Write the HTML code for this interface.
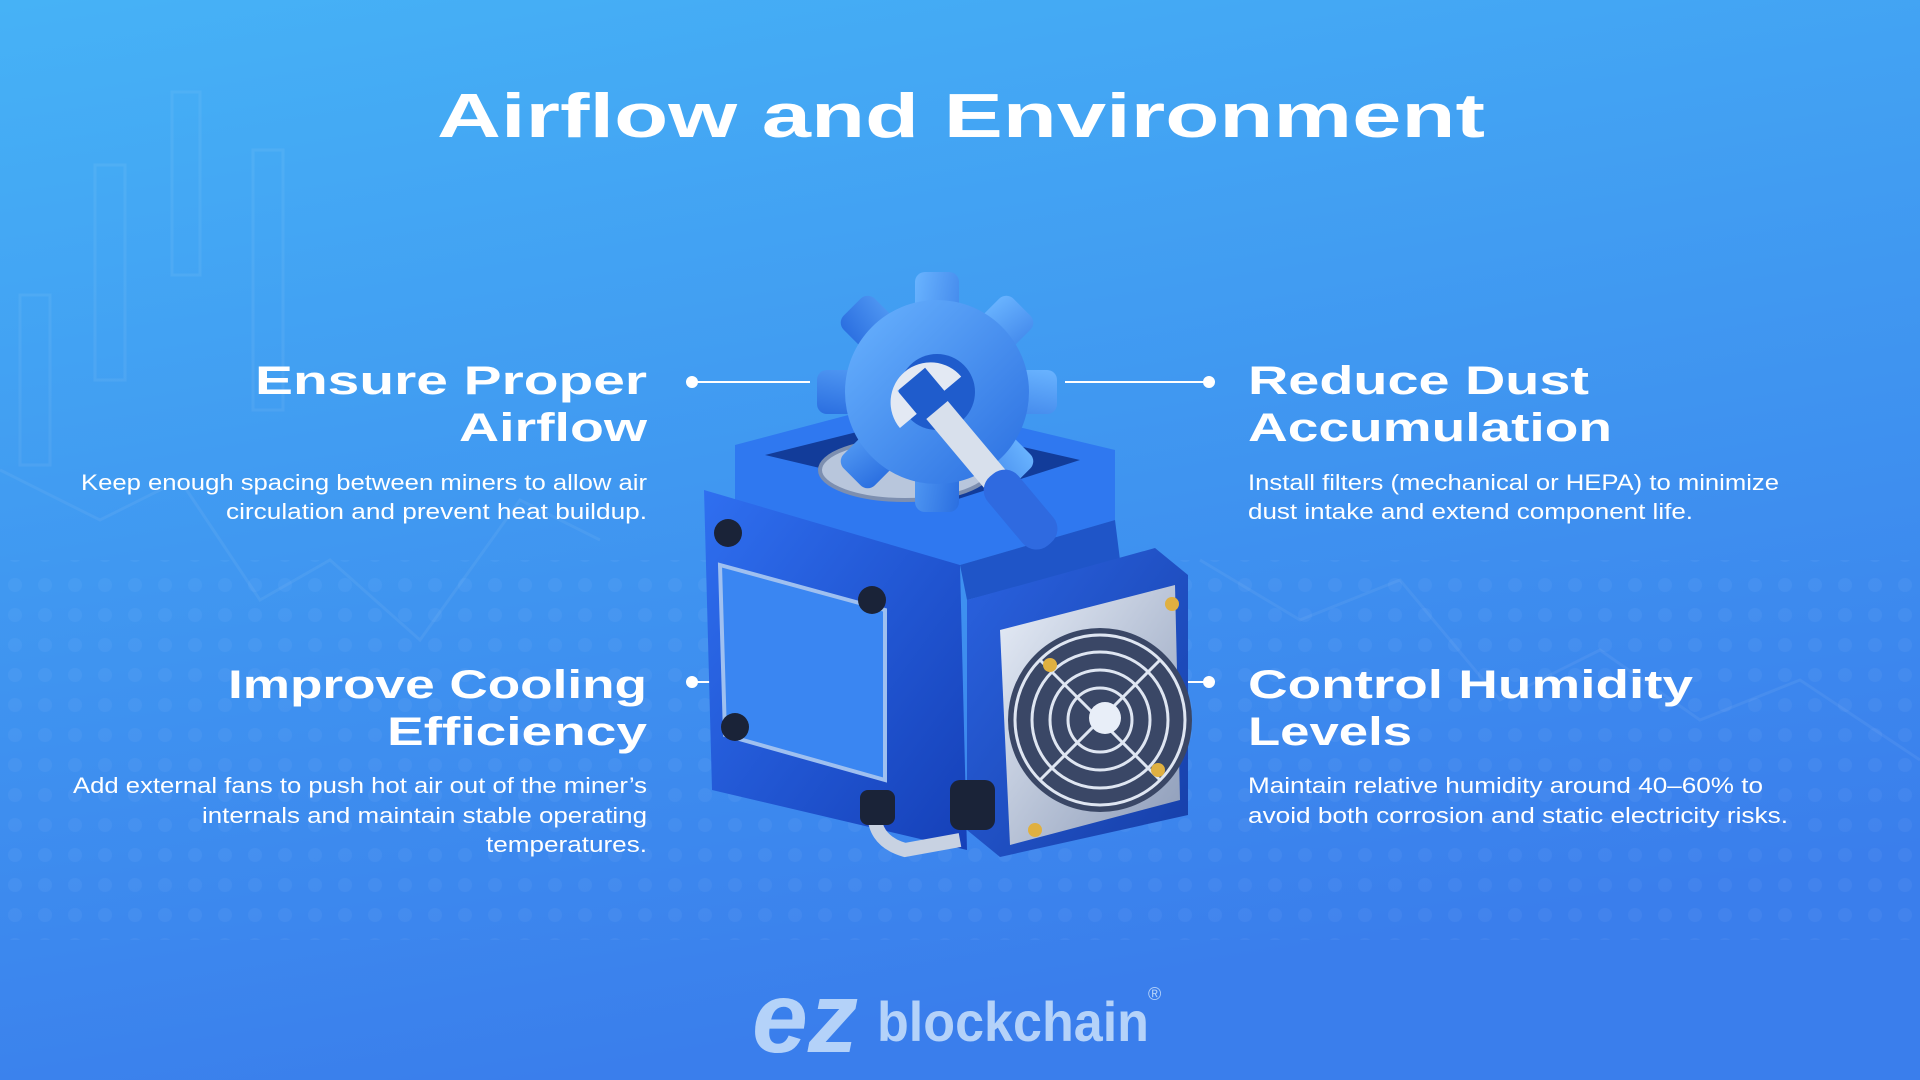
<!DOCTYPE html>
<html><head><meta charset="utf-8">
<style>
html,body{margin:0;padding:0;width:1920px;height:1080px;overflow:hidden}
svg{display:block}
.h{font-family:"Liberation Sans",sans-serif;font-weight:bold;fill:#fff}
.b{font-family:"Liberation Sans",sans-serif;font-size:22px;fill:#fff}
</style></head><body>
<svg width="1920" height="1080" viewBox="0 0 1920 1080" xmlns="http://www.w3.org/2000/svg">
<defs>
<linearGradient id="bg" x1="0" y1="0" x2="0.3" y2="1">
<stop offset="0" stop-color="#46b2f6"/><stop offset="1" stop-color="#3a7eec"/></linearGradient>
<linearGradient id="front" x1="0" y1="0" x2="1" y2="1">
<stop offset="0" stop-color="#2f6ff0"/><stop offset="1" stop-color="#1540b8"/></linearGradient>
<linearGradient id="side" x1="0" y1="0" x2="1" y2="1">
<stop offset="0" stop-color="#2a62e0"/><stop offset="1" stop-color="#163fa8"/></linearGradient>
<linearGradient id="gear" x1="0" y1="0" x2="1" y2="1">
<stop offset="0" stop-color="#6ab4ff"/><stop offset="1" stop-color="#2a6ee0"/></linearGradient>
<linearGradient id="fan" x1="0" y1="0" x2="1" y2="1">
<stop offset="0" stop-color="#e8eef8"/><stop offset="1" stop-color="#8c9bb8"/></linearGradient>
<pattern id="dots" width="30" height="30" patternUnits="userSpaceOnUse"><circle cx="15" cy="15" r="7" fill="#ffffff" opacity="0.04"/></pattern>
</defs>
<rect width="1920" height="1080" fill="url(#bg)"/>
<rect x="0" y="560" width="1920" height="380" fill="url(#dots)"/>
<g fill="none" stroke="#ffffff" stroke-opacity="0.06" stroke-width="3">
<rect x="20" y="295" width="30" height="170"/><rect x="95" y="165" width="30" height="215"/>
<rect x="172" y="92" width="28" height="183"/><rect x="253" y="150" width="30" height="260"/>
<polyline points="0,470 100,520 180,480 260,600 330,560 420,640 520,500 600,540"/>
<polyline points="1200,560 1300,620 1400,580 1500,700 1600,650 1700,720 1800,680 1920,760"/>
</g>
<text class="h" x="437" y="137" font-size="62" textLength="1048" lengthAdjust="spacingAndGlyphs">Airflow and Environment</text>
<g stroke="#fff" stroke-width="2" fill="#fff">
<line x1="692" y1="382" x2="810" y2="382"/><circle cx="692" cy="382" r="5"/>
<line x1="1065" y1="382" x2="1209" y2="382"/><circle cx="1209" cy="382" r="5"/>
<line x1="692" y1="682" x2="710" y2="682"/><circle cx="692" cy="682" r="5"/>
<line x1="1180" y1="682" x2="1209" y2="682"/><circle cx="1209" cy="682" r="5"/>
</g>
<g class="h" font-size="40">
<text x="255" y="394" textLength="392" lengthAdjust="spacingAndGlyphs">Ensure Proper</text>
<text x="459" y="441" textLength="188" lengthAdjust="spacingAndGlyphs">Airflow</text>
<text x="228" y="698" textLength="419" lengthAdjust="spacingAndGlyphs">Improve Cooling</text>
<text x="387" y="745" textLength="260" lengthAdjust="spacingAndGlyphs">Efficiency</text>
<text x="1248" y="394" textLength="341" lengthAdjust="spacingAndGlyphs">Reduce Dust</text>
<text x="1248" y="441" textLength="364" lengthAdjust="spacingAndGlyphs">Accumulation</text>
<text x="1248" y="698" textLength="445" lengthAdjust="spacingAndGlyphs">Control Humidity</text>
<text x="1248" y="745" textLength="164" lengthAdjust="spacingAndGlyphs">Levels</text>
</g>
<g class="b">
<text x="81" y="490" textLength="566" lengthAdjust="spacingAndGlyphs">Keep enough spacing between miners to allow air</text>
<text x="226" y="519" textLength="421" lengthAdjust="spacingAndGlyphs">circulation and prevent heat buildup.</text>
<text x="73" y="793" textLength="574" lengthAdjust="spacingAndGlyphs">Add external fans to push hot air out of the miner’s</text>
<text x="202" y="823" textLength="445" lengthAdjust="spacingAndGlyphs">internals and maintain stable operating</text>
<text x="486" y="852" textLength="161" lengthAdjust="spacingAndGlyphs">temperatures.</text>
<text x="1248" y="490" textLength="531" lengthAdjust="spacingAndGlyphs">Install filters (mechanical or HEPA) to minimize</text>
<text x="1248" y="519" textLength="445" lengthAdjust="spacingAndGlyphs">dust intake and extend component life.</text>
<text x="1248" y="793" textLength="515" lengthAdjust="spacingAndGlyphs">Maintain relative humidity around 40–60% to</text>
<text x="1248" y="823" textLength="540" lengthAdjust="spacingAndGlyphs">avoid both corrosion and static electricity risks.</text>
</g>
<g>
<polygon points="735,445 905,400 1115,450 1115,520 960,565 735,505" fill="#2f78f0"/>
<polygon points="765,455 905,420 1080,460 955,500" fill="#123c9a"/>
<ellipse cx="905" cy="470" rx="85" ry="30" fill="#b8c6dc" stroke="#7d8fb0" stroke-width="4"/>
<polygon points="704,490 960,565 967,850 712,790" fill="url(#front)"/>
<polygon points="720,565 885,610 885,780 725,735" fill="#3a86f2" stroke="#9fc0f0" stroke-width="4"/>
<polygon points="960,565 1115,520 1120,560 967,600" fill="#1f55c8"/>
<polygon points="967,600 1155,548 1188,575 1188,815 1000,857 967,830" fill="url(#side)"/>
<polygon points="1000,630 1175,585 1180,800 1010,845" fill="url(#fan)"/>
<circle cx="1100" cy="720" r="92" fill="#3a4766"/>
<g fill="none" stroke="#dfe6f2" stroke-width="3">
<circle cx="1100" cy="720" r="85"/><circle cx="1100" cy="720" r="68"/><circle cx="1100" cy="720" r="50"/><circle cx="1100" cy="720" r="32"/>
<line x1="1040" y1="660" x2="1160" y2="780"/><line x1="1160" y1="660" x2="1040" y2="780"/>
</g>
<circle cx="1105" cy="718" r="16" fill="#e8eef8"/>
<g fill="#e0b040"><circle cx="1050" cy="665" r="7"/><circle cx="1172" cy="604" r="7"/><circle cx="1158" cy="770" r="7"/><circle cx="1035" cy="830" r="7"/></g>
<g fill="#1a2338"><circle cx="728" cy="533" r="14"/><circle cx="872" cy="600" r="14"/><circle cx="735" cy="727" r="14"/></g>
<path d="M875,805 Q870,840 905,850 L960,840" fill="none" stroke="#c8d2e2" stroke-width="14"/>
<rect x="950" y="780" width="45" height="50" rx="10" fill="#1a2338"/>
<rect x="860" y="790" width="35" height="35" rx="8" fill="#1a2338"/>
<g transform="translate(937,392)" fill="url(#gear)">
<rect x="-22" y="-120" width="44" height="240" rx="10"/>
<rect x="-22" y="-120" width="44" height="240" rx="10" transform="rotate(45)"/>
<rect x="-22" y="-120" width="44" height="240" rx="10" transform="rotate(90)"/>
<rect x="-22" y="-120" width="44" height="240" rx="10" transform="rotate(135)"/>
<circle r="92"/>
<circle r="38" fill="#1f5ccc"/>
</g>
<g transform="translate(937,410) rotate(-40)">
<rect x="-14" y="0" width="28" height="90" fill="#d8e0ec"/>
<rect x="-20" y="85" width="40" height="90" rx="18" fill="#2f6ae0"/>
<path d="M-40,-10 A40,40 0 1,1 40,-10 L18,-10 L18,-40 L-18,-40 L-18,-10 Z" fill="#e3e9f3"/>
</g>
</g>
<g fill="#c2dcfb" opacity="0.9">
<text x="752" y="1052" font-family="Liberation Sans,sans-serif" font-weight="bold" font-style="italic" font-size="100" textLength="106" lengthAdjust="spacingAndGlyphs">ez</text>
<text x="877" y="1041" font-family="Liberation Sans,sans-serif" font-weight="bold" font-size="56" textLength="272" lengthAdjust="spacingAndGlyphs">blockchain</text>
<text x="1148" y="1000" font-family="Liberation Sans,sans-serif" font-size="18">®</text>
</g>
</svg>
</body></html>
